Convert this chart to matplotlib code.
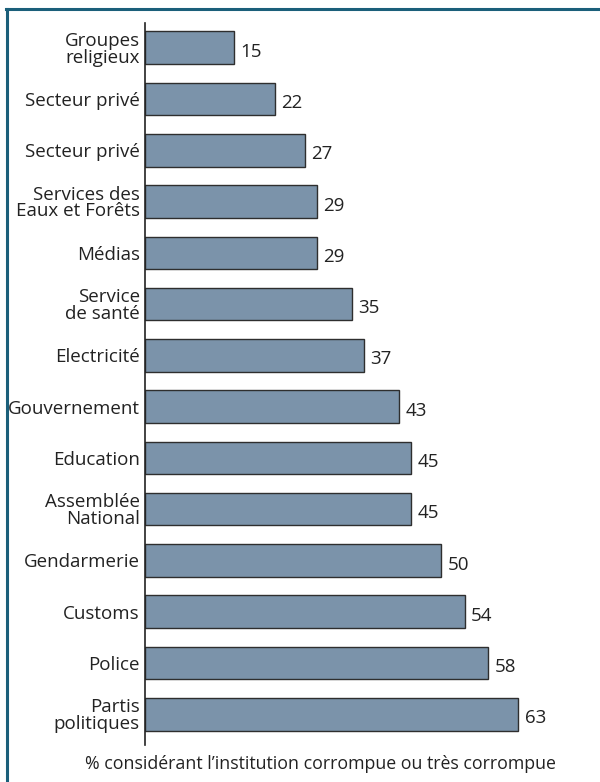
import matplotlib
matplotlib.use("Agg")
import matplotlib.pyplot as plt
from matplotlib.lines import Line2D

categories = ["Groupes\nreligieux", "Secteur privé", "Secteur privé",
              "Services des\nEaux et Forêts", "Médias", "Service\nde santé",
              "Electricité", "Gouvernement", "Education", "Assemblée\nNational",
              "Gendarmerie", "Customs", "Police", "Partis\npolitiques"]
values = [15, 22, 27, 29, 29, 35, 37, 43, 45, 45, 50, 54, 58, 63]
xlabel = "% considérant l’institution corrompue ou très corrompue"

plt.rcParams['font.family'] = ['Open Sans', 'DejaVu Sans']

W, H = 600, 782
fig = plt.figure(figsize=(W / 100, H / 100), dpi=100)

# frame (top + left teal lines)
frame_col = "#1b5f7a"
fig.add_artist(Line2D([6 / W, 1], [1 - 9 / H, 1 - 9 / H], color=frame_col, lw=2.2,
                      transform=fig.transFigure))
fig.add_artist(Line2D([7 / W, 7 / W], [1 - 9 / H, 0], color=frame_col, lw=2.2,
                      transform=fig.transFigure))

left, right = 144.7, 590
top, bottom = 23, 745
ax = fig.add_axes([left / W, 1 - bottom / H, (right - left) / W, (bottom - top) / H])
px_per_unit = (518 - 144.7) / 63
ax.set_xlim(0, (right - left) / px_per_unit)
pitch = 51.28
ax.set_ylim(13 + (bottom - 714.3) / pitch, -(47.7 - top) / pitch)

ypos = list(range(len(categories)))
ax.barh(ypos, values, height=0.634, color="#7b93aa", edgecolor="#2e2e2e", linewidth=1.0)
for y, v in zip(ypos, values):
    ax.text(v + 1.1, y + 0.08, str(v), va="center", ha="left", fontsize=13.5, color="#222222")

ax.set_yticks(ypos)
ax.set_yticklabels(categories, fontsize=13.5, color="#222222", linespacing=0.92)
ax.tick_params(axis="y", length=0, pad=3.5)
ax.set_xticks([])
for s in ["top", "right", "bottom"]:
    ax.spines[s].set_visible(False)
ax.spines["left"].set_color("#222222")
ax.spines["left"].set_linewidth(1.2)
ax.patch.set_alpha(0)

fig.text(320 / W, 1 - 764 / H, xlabel, ha="center", va="center", fontsize=12.8, color="#222222")

fig.savefig("out.png", dpi=100)
